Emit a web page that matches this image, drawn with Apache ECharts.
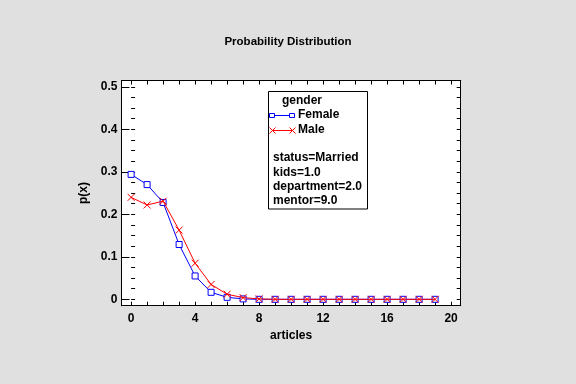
<!DOCTYPE html>
<html>
<head>
<meta charset="utf-8">
<script src="https://cdn.jsdelivr.net/npm/echarts@6/dist/echarts.min.js"></script>
<style>html,body{margin:0;padding:0;background:#e0e0e0;}#c{width:576px;height:384px;}</style>
</head>
<body>
<div id="c"></div>
<script>
var articles = [0,1,2,3,4,5,6,7,8,9,10,11,12,13,14,15,16,17,18,19];
var female = [0.294,0.270,0.228,0.129,0.055,0.0165,0.0047,0.001,0,0,0,0,0,0,0,0,0,0,0,0];
var male   = [0.240,0.222,0.231,0.163,0.085,0.035,0.012,0.004,0.001,0,0,0,0,0,0,0,0,0,0,0];
var xMajor = [0,4,8,12,16,20];
var xMinor = [0,1,2,3,4,5,6,7,8,9,10,11,12,13,14,15,16,17,18,19,20];
var yMajor = [0,0.1,0.2,0.3,0.4,0.5];
var yMinor = [];
for (var i = 0; i <= 20; i++) yMinor.push(+(i*0.025).toFixed(3));
var infoLines = ['status=Married','kids=1.0','department=2.0','mentor=9.0'];

var FONT = '"Liberation Sans", Arial, sans-serif';
var chart = echarts.init(document.getElementById('c'));
var xr = {min:-0.6, max:20.6}, yr = {min:-0.015, max:0.515};
function xAx(pos, ticks, len, labels, extra) {
  var a = {
    type:'value', position:pos, min:xr.min, max:xr.max,
    axisLine:{show:true, onZero:false, lineStyle:{color:'#000', width:1}},
    axisTick:{show:true, inside:true, length:len, customValues:ticks, lineStyle:{color:'#000'}},
    axisLabel:labels ? {show:true, customValues:labels, color:'#000', fontFamily:FONT, fontWeight:'bold', fontSize:12, margin:7} : {show:false},
    splitLine:{show:false}
  };
  return Object.assign(a, extra||{});
}
function yAx(pos, ticks, len, labels, extra) {
  var a = {
    type:'value', position:pos, min:yr.min, max:yr.max,
    axisLine:{show:true, onZero:false, lineStyle:{color:'#000', width:1}},
    axisTick:{show:true, inside:true, length:len, customValues:ticks, lineStyle:{color:'#000'}},
    axisLabel:labels ? {show:true, customValues:labels, color:'#000', fontFamily:FONT, fontWeight:'bold', fontSize:12, margin:4,
      formatter:function(v){return v===0?'0':String(+v.toFixed(1));}} : {show:false},
    splitLine:{show:false}
  };
  return Object.assign(a, extra||{});
}
var legX = 268.5, legY = 91.5;
function cross(cx, cy) {
  return [
    {type:'line', shape:{x1:cx-3, y1:cy-3, x2:cx+3, y2:cy+3}, style:{stroke:'#ff0000', lineWidth:1}, z:12},
    {type:'line', shape:{x1:cx+3, y1:cy-3, x2:cx-3, y2:cy+3}, style:{stroke:'#ff0000', lineWidth:1}, z:12}
  ];
}
var graphics = [
  {type:'rect', shape:{x:legX, y:legY, width:99, height:117.5}, style:{fill:'#fff', stroke:'#000', lineWidth:1}, z:10},
  {type:'text', x:282, y:101, style:{text:'gender', font:'bold 12px '+FONT, fill:'#000', verticalAlign:'middle'}, z:11},
  {type:'line', shape:{x1:272, y1:115.5, x2:292, y2:115.5}, style:{stroke:'#0000ff', lineWidth:1}, z:11},
  {type:'rect', shape:{x:269.5, y:113.5, width:5, height:4}, style:{fill:'#fff', stroke:'#0000ff', lineWidth:1}, z:12},
  {type:'rect', shape:{x:289.5, y:113.5, width:5, height:4}, style:{fill:'#fff', stroke:'#0000ff', lineWidth:1}, z:12},
  {type:'text', x:298, y:115, style:{text:'Female', font:'bold 12px '+FONT, fill:'#000', verticalAlign:'middle'}, z:11},
  {type:'line', shape:{x1:272, y1:130.5, x2:292, y2:130.5}, style:{stroke:'#ff0000', lineWidth:1}, z:11},
  {type:'text', x:298, y:130, style:{text:'Male', font:'bold 12px '+FONT, fill:'#000', verticalAlign:'middle'}, z:11}
].concat(cross(272.5, 130.5), cross(292.5, 130.5));
infoLines.forEach(function(t, k){
  graphics.push({type:'text', x:273, y:158 + k*14.2, style:{text:t, font:'bold 12px '+FONT, fill:'#000', verticalAlign:'middle'}, z:11});
});
chart.setOption({
  backgroundColor:'#e0e0e0',
  animation:false,
  title:{text:'Probability Distribution', left:'center', top:31, textStyle:{fontFamily:FONT, fontWeight:'bold', fontSize:11.5, color:'#000'}},
  grid:{left:121.5, top:80.5, width:339.2, height:225.2, show:true, backgroundColor:'#fff', borderWidth:0},
  xAxis:[
    xAx('bottom', xMinor, 4, xMajor, {name:'articles', nameLocation:'middle', nameGap:21, nameTextStyle:{fontFamily:FONT, fontWeight:'bold', fontSize:12, color:'#000'}}),
    xAx('top', xMinor, 4, null)
  ],
  yAxis:[
    yAx('left', yMajor, 8, yMajor, {name:'p(x)', nameLocation:'middle', nameGap:24, nameRotate:90, nameTextStyle:{fontFamily:FONT, fontWeight:'bold', fontSize:12, color:'#000'}}),
    yAx('left', yMinor, 4, null, {axisLine:{show:false}}),
    yAx('right', yMinor, 4, null)
  ],
  series:[
    {name:'Female', type:'line', xAxisIndex:0, yAxisIndex:0, data:articles.map(function(x,i){return [x,female[i]];}),
     symbol:'rect', symbolSize:6, lineStyle:{color:'#0000ff', width:1}, itemStyle:{color:'#fff', borderColor:'#0000ff', borderWidth:1}, z:3},
    {name:'Male', type:'line', xAxisIndex:0, yAxisIndex:0, data:articles.map(function(x,i){return [x,male[i]];}),
     symbol:'path://M0,0L10,10M10,0L0,10', symbolSize:7, lineStyle:{color:'#ff0000', width:1}, itemStyle:{color:'rgba(0,0,0,0)', borderColor:'#ff0000', borderWidth:1}, z:4}
  ],
  graphic:graphics
});
</script>
</body>
</html>
